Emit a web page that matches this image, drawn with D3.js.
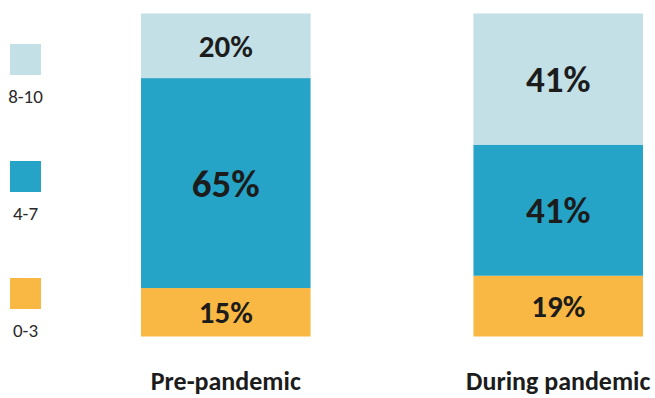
<!DOCTYPE html>
<html>
<head>
<meta charset="utf-8">
<script src="https://cdn.jsdelivr.net/npm/d3@7"></script>
<style>
  body { margin: 0; background: #fff; }
  svg { display: block; font-family: Carlito, Calibri, Lato, sans-serif; }
</style>
</head>
<body>
<div id="chart"></div>
<script>
// data
var categories = ['Pre-pandemic', 'During pandemic'];
var bands = ['0-3', '4-7', '8-10'];          // bottom to top
var low  = [15, 19];
var mid  = [65, 41];
var high = [20, 41];
var legendLabels = ['8-10', '4-7', '0-3'];   // top to bottom

var colors = { '0-3': '#f9b843', '4-7': '#26a4c7', '8-10': '#c2e0e6' };

var width = 655, height = 398;

var svg = d3.select('#chart').append('svg')
    .attr('width', width)
    .attr('height', height);

var rows = categories.map(function(c, i) {
    return { cat: c, '0-3': low[i], '4-7': mid[i], '8-10': high[i], total: low[i] + mid[i] + high[i] };
});

var x = d3.scaleBand()
    .domain(categories)
    .range([141, 643])
    .paddingInner(0.49);

var fontSize = d3.scaleLinear()
    .domain([65, 131, 210])
    .range([31, 37, 39])
    .clamp(true);

rows.forEach(function(r) {
    var y = d3.scaleLinear().domain([0, r.total]).range([336.5, 13.5]);
    var stacked = d3.stack().keys(bands)([r]);
    var g = svg.append('g');

    g.selectAll('rect')
        .data(stacked)
      .enter().append('rect')
        .attr('x', x(r.cat))
        .attr('width', x.bandwidth())
        .attr('y', function(d) { return y(d[0][1]); })
        .attr('height', function(d) { return y(d[0][0]) - y(d[0][1]); })
        .style('fill', function(d) { return colors[d.key]; });

    g.selectAll('text')
        .data(stacked)
      .enter().append('text')
        .attr('x', x(r.cat) + x.bandwidth() / 2)
        .attr('y', function(d) { return (y(d[0][0]) + y(d[0][1])) / 2; })
        .attr('dy', '0.36em')
        .attr('text-anchor', 'middle')
        .style('font-weight', 'bold')
        .style('fill', '#1c1c1c')
        .style('font-size', function(d) { return fontSize(y(d[0][0]) - y(d[0][1])) + 'px'; })
        .text(function(d) { return (d[0][1] - d[0][0]) + '%'; });
});

// category labels
svg.selectAll('.cat')
    .data(categories)
  .enter().append('text')
    .attr('class', 'cat')
    .attr('x', function(d) { return x(d) + x.bandwidth() / 2; })
    .attr('y', 390)
    .attr('text-anchor', 'middle')
    .style('font-weight', 'bold')
    .style('font-size', '26px')
    .style('fill', '#1c1c1c')
    .text(function(d) { return d; });

// legend
var ly = d3.scalePoint().domain(legendLabels).range([44, 278]);

var leg = svg.selectAll('.leg')
    .data(legendLabels)
  .enter().append('g')
    .attr('class', 'leg')
    .attr('transform', function(d) { return 'translate(10,' + ly(d) + ')'; });

leg.append('rect')
    .attr('width', 31)
    .attr('height', 31)
    .style('fill', function(d) { return colors[d]; });

leg.append('text')
    .attr('x', 15.5)
    .attr('y', 59)
    .attr('text-anchor', 'middle')
    .style('font-size', '19px')
    .style('fill', '#2a2a2a')
    .text(function(d) { return d; });
</script>
</body>
</html>
